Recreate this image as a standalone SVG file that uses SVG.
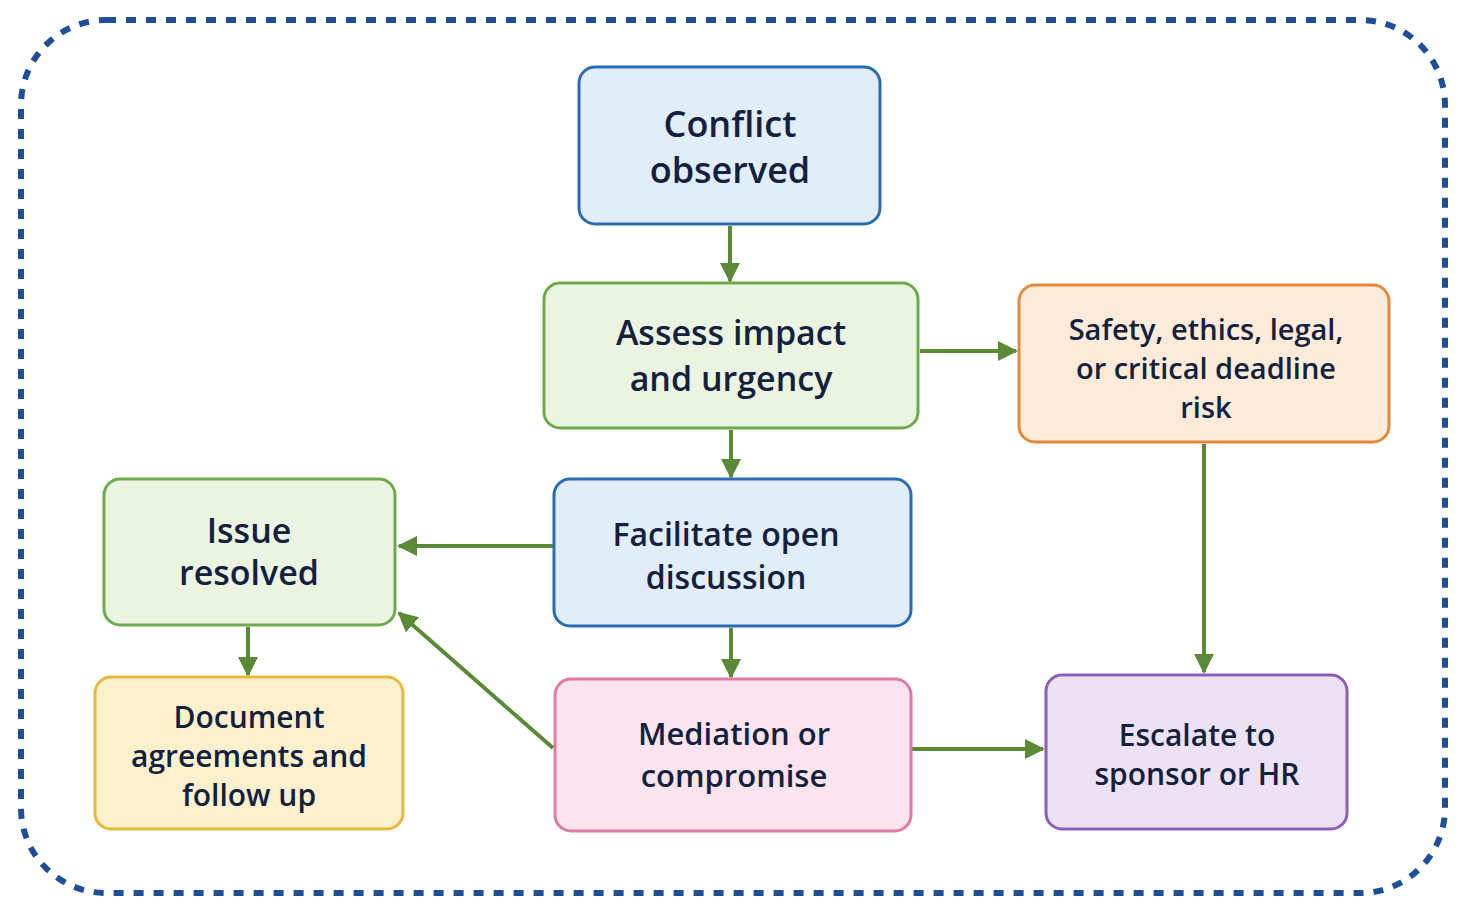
<svg xmlns="http://www.w3.org/2000/svg" width="1467" height="915" viewBox="0 0 1467 915">
<defs>
<marker id="ah" viewBox="0 0 10 10" refX="9" refY="5" markerWidth="5" markerHeight="5" orient="auto" markerUnits="strokeWidth"><path d="M0,0 L10,5 L0,10 z" fill="#5a8a35"/></marker>
<style>
.n rect{stroke-width:3}
text{font-family:"Open Sans","Noto Sans",sans-serif;font-weight:600;fill:#13213f;text-anchor:middle}
.c line{stroke:#5a8a35;stroke-width:4;marker-end:url(#ah)}
.blue rect{fill:#e1edf9;stroke:#2a6bb3}
.green rect{fill:#eaf4e1;stroke:#6eaa4c}
.orange rect{fill:#fdebd9;stroke:#e08a3a}
.yellow rect{fill:#fdf1cd;stroke:#e8b93a}
.pink rect{fill:#fce4ee;stroke:#e07aa5}
.purple rect{fill:#ece2f4;stroke:#8a5fb5}
</style>
</defs>
<rect width="1467" height="915" fill="#fff"/>
<rect x="21" y="20" width="1424" height="873" rx="85" fill="none" stroke="#1f4e99" stroke-width="6" stroke-dasharray="10 10"/>
<g class="c">
<line x1="730" y1="226" x2="730" y2="281"/>
<line x1="731" y1="430" x2="731" y2="477"/>
<line x1="920" y1="351" x2="1016" y2="351"/>
<line x1="1204" y1="444" x2="1204" y2="672"/>
<line x1="553" y1="546" x2="399" y2="546"/>
<line x1="248" y1="627" x2="248" y2="675"/>
<line x1="731" y1="628" x2="731" y2="677"/>
<line x1="553" y1="748" x2="399" y2="613"/>
<line x1="912" y1="749" x2="1043" y2="749"/>
</g>
<g id="conflict" class="n blue"><rect x="579" y="67" width="301" height="157" rx="16"/><text font-size="36"><tspan x="730" y="137">Conflict</tspan><tspan x="730" y="183">observed</tspan></text></g>
<g id="assess" class="n green"><rect x="544" y="283" width="374" height="145" rx="16"/><text font-size="34"><tspan x="731" y="345">Assess impact</tspan><tspan x="731" y="391">and urgency</tspan></text></g>
<g id="safety" class="n orange"><rect x="1019" y="285" width="370" height="157" rx="16"/><text font-size="29"><tspan x="1206" y="340">Safety, ethics, legal,</tspan><tspan x="1206" y="379">or critical deadline</tspan><tspan x="1206" y="418">risk</tspan></text></g>
<g id="facilitate" class="n blue"><rect x="554" y="479" width="357" height="147" rx="16"/><text font-size="32"><tspan x="726" y="546">Facilitate open</tspan><tspan x="726" y="589">discussion</tspan></text></g>
<g id="resolved" class="n green"><rect x="104" y="479" width="291" height="146" rx="16"/><text font-size="34"><tspan x="249" y="543">Issue</tspan><tspan x="249" y="585">resolved</tspan></text></g>
<g id="document" class="n yellow"><rect x="95" y="677" width="308" height="152" rx="16"/><text font-size="30"><tspan x="249" y="728">Document</tspan><tspan x="249" y="767">agreements and</tspan><tspan x="249" y="806">follow up</tspan></text></g>
<g id="mediation" class="n pink"><rect x="555" y="679" width="356" height="152" rx="16"/><text font-size="31"><tspan x="734" y="745">Mediation or</tspan><tspan x="734" y="787">compromise</tspan></text></g>
<g id="escalate" class="n purple"><rect x="1046" y="675" width="301" height="154" rx="16"/><text font-size="30"><tspan x="1197" y="746">Escalate to</tspan><tspan x="1197" y="785">sponsor or HR</tspan></text></g>
</svg>
